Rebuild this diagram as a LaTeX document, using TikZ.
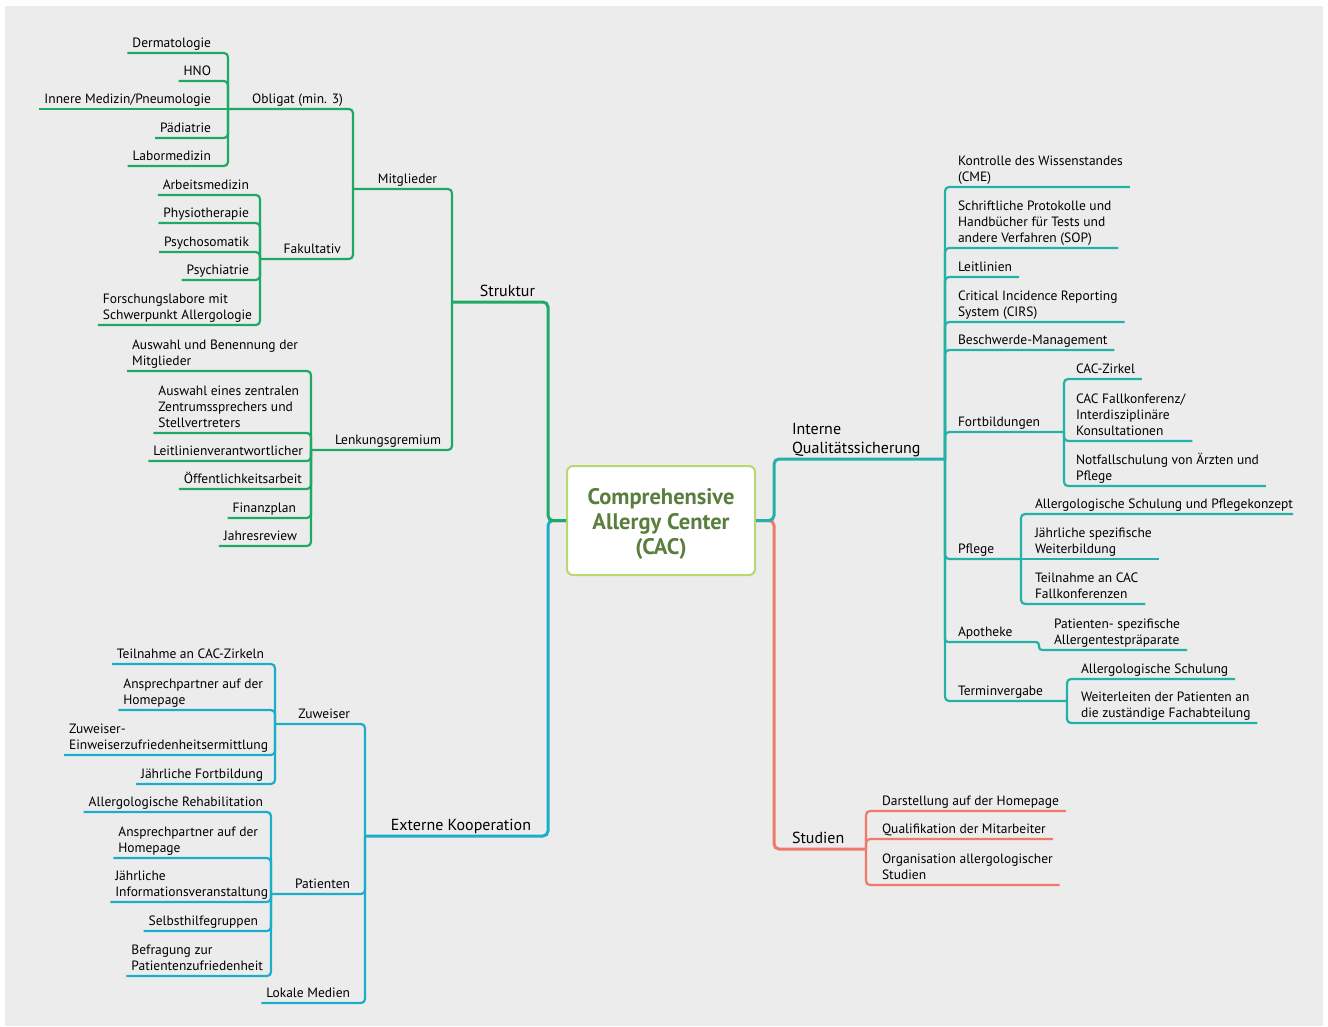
\documentclass[tikz,border=0pt]{standalone}
\usepackage{fontspec}
\setmainfont{PT Sans}
\usepackage{xcolor}
\usepackage{tikz}
\usetikzlibrary{positioning}

\definecolor{strgreen}{RGB}{30,170,100}
\definecolor{extcyan}{RGB}{28,174,200}
\definecolor{intteal}{RGB}{36,178,166}
\definecolor{stured}{RGB}{238,122,106}
\definecolor{cacgreen}{RGB}{90,126,62}
\definecolor{cacborder}{RGB}{186,214,112}
\definecolor{bggrey}{RGB}{236,236,236}

\begin{document}
\begin{tikzpicture}[x=1pt, y=-1pt,
    lbl/.style={inner xsep=0pt, inner ysep=2.5pt, outer sep=0pt, align=left,
                font=\fontsize{13.5}{16}\selectfont, execute at end node={\vphantom{g}}},
    lleft/.style={lbl, anchor=south east},
    lright/.style={lbl, anchor=south west},
    bigl/.style={font=\fontsize{16}{19}\selectfont},
    cacbox/.style={rectangle, rounded corners=6pt, draw=cacborder, line width=2pt, fill=white,
                   minimum width=188pt, minimum height=109pt, align=center,
                   text=cacgreen, font=\fontsize{22.5}{25}\selectfont\bfseries},
    conn/.style={line width=2.2pt, rounded corners=4pt},
    mainconn/.style={line width=3pt, rounded corners=5pt}
  ]
  \useasboundingbox (0,0) rectangle (1328,1027);
  \fill[bggrey] (5,6) rectangle (1323,1026);

  \node[cacbox] (cac) at (661,520.5) {\rule{0pt}{22pt}Comprehensive\\Allergy Center\\(CAC)};

  % Struktur
  \node[lleft, bigl] (str) at (535,302) {Struktur};
  \node[lleft] (mitg) at (437,189) {Mitglieder};
  \node[lleft] (obl) at (343,109) {Obligat (min. 3)};
  \node[lleft] (derm) at (211,53) {Dermatologie};
  \node[lleft] (hno) at (211,81) {HNO};
  \node[lleft] (inn) at (211,109) {Innere Medizin/Pneumologie};
  \node[lleft] (paed) at (211,138) {Pädiatrie};
  \node[lleft] (labor) at (211,166) {Labormedizin};
  \node[lleft] (fak) at (341,259) {Fakultativ};
  \node[lleft] (arb) at (249,195) {Arbeitsmedizin};
  \node[lleft] (phys) at (249,223) {Physiotherapie};
  \node[lleft] (psom) at (249,252) {Psychosomatik};
  \node[lleft] (psych) at (249,280) {Psychiatrie};
  \node[lleft] (forsch) at (252,325) {Forschungslabore mit\\Schwerpunkt Allergologie};
  \node[lleft] (lenk) at (441,450) {Lenkungsgremium};
  \node[lleft] (ausw) at (298,371) {Auswahl und Benennung der\\Mitglieder};
  \node[lleft] (zentr) at (299,433) {Auswahl eines zentralen\\Zentrumssprechers und\\Stellvertreters};
  \node[lleft] (leitv) at (303,461) {Leitlinienverantwortlicher};
  \node[lleft] (oeff) at (302,489) {Öffentlichkeitsarbeit};
  \node[lleft] (fin) at (296,518) {Finanzplan};
  \node[lleft] (jahr) at (297,546) {Jahresreview};

  \coordinate (str-j) at (452,302);
  \coordinate (mitg-j) at (353,189);
  \coordinate (obl-j) at (228,109);
  \coordinate (fak-j) at (260,259);
  \coordinate (lenk-j) at (311,450);

  % Externe Kooperation
  \node[lleft, bigl] (ext) at (531,836) {Externe Kooperation};
  \node[lleft] (zuw) at (350,724) {Zuweiser};
  \node[lleft] (teiln) at (264,664) {Teilnahme an CAC-Zirkeln};
  \node[lleft] (anspz) at (263,710) {Ansprechpartner auf der\\Homepage};
  \node[lleft] (zufr) at (268,755) {Zuweiser-\\Einweiserzufriedenheitsermittlung};
  \node[lleft] (fortb) at (263,784) {Jährliche Fortbildung};
  \node[lleft] (pat) at (350,894) {Patienten};
  \node[lleft] (reha) at (263,812) {Allergologische Rehabilitation};
  \node[lleft] (anspp) at (258,858) {Ansprechpartner auf der\\Homepage};
  \node[lleft] (info) at (268,902) {Jährliche\\Informationsveranstaltung};
  \node[lleft] (selbst) at (258,931) {Selbsthilfegruppen};
  \node[lleft] (befr) at (263,976) {Befragung zur\\Patientenzufriedenheit};
  \node[lleft] (lokal) at (350,1003) {Lokale Medien};

  \coordinate (ext-j) at (365,836);
  \coordinate (zuw-j) at (275,724);
  \coordinate (pat-j) at (271,894);

  % Interne Qualitaetssicherung
  \node[lright, bigl] (int) at (792,459) {Interne\\Qualitätssicherung};
  \node[lright] (kontr) at (958,187) {Kontrolle des Wissenstandes\\(CME)};
  \node[lright] (sop) at (958,248) {Schriftliche Protokolle und\\Handbücher für Tests und\\andere Verfahren (SOP)};
  \node[lright] (leitl) at (958,277) {Leitlinien};
  \node[lright] (cirs) at (958,322) {Critical Incidence Reporting\\System (CIRS)};
  \node[lright] (beschw) at (958,350) {Beschwerde-Management};
  \node[lright] (fort) at (958,432) {Fortbildungen};
  \node[lright] (zirk) at (1076,379) {CAC-Zirkel};
  \node[lright] (fallk) at (1076,441) {CAC Fallkonferenz/\\Interdisziplinäre\\Konsultationen};
  \node[lright] (notf) at (1076,486) {Notfallschulung von Ärzten und\\Pflege};
  \node[lright] (pfl) at (958,559) {Pflege};
  \node[lright] (pfkon) at (1035,514) {Allergologische Schulung und Pflegekonzept};
  \node[lright] (weiterb) at (1035,559) {Jährliche spezifische\\Weiterbildung};
  \node[lright] (fallp) at (1035,604) {Teilnahme an CAC\\Fallkonferenzen};
  \node[lright] (apo) at (958,642) {Apotheke};
  \node[lright] (praep) at (1054,650) {Patienten- spezifische\\Allergentestpräparate};
  \node[lright] (term) at (958,701) {Terminvergabe};
  \node[lright] (schul) at (1081,679) {Allergologische Schulung};
  \node[lright] (weiterl) at (1081,723) {Weiterleiten der Patienten an\\die zuständige Fachabteilung};

  \coordinate (int-j) at (945,459);
  \coordinate (fort-j) at (1064,432);
  \coordinate (pfl-j) at (1021,559);
  \coordinate (apo-j) at (1039,642);
  \coordinate (term-j) at (1067,701);

  % Studien
  \node[lright, bigl] (stu) at (792,849) {Studien};
  \node[lright] (hompg) at (882,811) {Darstellung auf der Homepage};
  \node[lright] (quali) at (882,839) {Qualifikation der Mitarbeiter};
  \node[lright] (orga) at (882,885) {Organisation allergologischer\\Studien};

  \coordinate (stu-j) at (866,849);

  \draw[mainconn, extcyan] (cac.west) -- ++(-18,0) |- (ext-j);
  \draw[mainconn, strgreen] (cac.west) -- ++(-18,0) |- (str-j);
  \draw[mainconn, stured] (cac.east) -- ++(18,0) |- (stu-j);
  \draw[mainconn, intteal] (cac.east) -- ++(18,0) |- (int-j);

  \draw[conn, strgreen] (str-j) |- (mitg-j);
  \draw[conn, strgreen] (str-j) |- (lenk-j);
  \draw[conn, strgreen] (mitg-j) |- (obl-j);
  \draw[conn, strgreen] (mitg-j) |- (fak-j);
  \foreach \leaf in {derm, hno, paed, labor}
    \draw[conn, strgreen] (obl-j) |- ([xshift=-5pt]\leaf.south west);
  \draw[conn, strgreen] (obl-j) -- ([xshift=-5pt]inn.south west);
  \foreach \leaf in {arb, phys, psom, psych, forsch}
    \draw[conn, strgreen] (fak-j) |- ([xshift=-5pt]\leaf.south west);
  \foreach \leaf in {ausw, zentr, leitv, oeff, fin, jahr}
    \draw[conn, strgreen] (lenk-j) |- ([xshift=-5pt]\leaf.south west);

  \draw[conn, extcyan] (ext-j) |- (zuw-j);
  \draw[conn, extcyan] (ext-j) |- (pat-j);
  \draw[conn, extcyan] (ext-j) |- ([xshift=-5pt]lokal.south west);
  \foreach \leaf in {teiln, anspz, zufr, fortb}
    \draw[conn, extcyan] (zuw-j) |- ([xshift=-5pt]\leaf.south west);
  \foreach \leaf in {reha, anspp, info, selbst, befr}
    \draw[conn, extcyan] (pat-j) |- ([xshift=-5pt]\leaf.south west);

  \foreach \leaf in {kontr, sop, leitl, cirs, beschw}
    \draw[conn, intteal] (int-j) |- ([xshift=7pt]\leaf.south east);
  \draw[conn, intteal] (int-j) |- (fort-j);
  \draw[conn, intteal] (int-j) |- (pfl-j);
  \draw[conn, intteal] (int-j) |- (term-j);
  \draw[conn, intteal, rounded corners=3pt] (int-j) |- (apo-j) |- ([xshift=7pt]praep.south east);
  \foreach \leaf in {zirk, fallk, notf}
    \draw[conn, intteal] (fort-j) |- ([xshift=7pt]\leaf.south east);
  \draw[conn, intteal] (pfl-j) |- (pfkon.south east);
  \draw[conn, intteal] (pfl-j) |- ([xshift=7pt]fallp.south east);
  \draw[conn, intteal] (pfl-j) -- ([xshift=7pt]weiterb.south east);
  \foreach \leaf in {schul, weiterl}
    \draw[conn, intteal] (term-j) |- ([xshift=7pt]\leaf.south east);

  \foreach \leaf in {hompg, quali, orga}
    \draw[conn, stured] (stu-j) |- ([xshift=7pt]\leaf.south east);
\end{tikzpicture}
\end{document}
